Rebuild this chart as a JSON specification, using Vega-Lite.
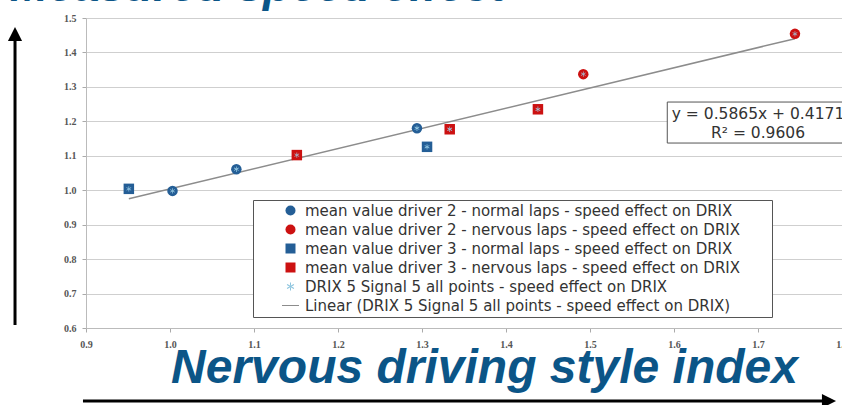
{
  "$schema": "https://vega.github.io/schema/vega-lite/v6.json",
  "width": 756,
  "height": 310,
  "autosize": "none",
  "padding": {"left": 86, "top": 18, "right": 0, "bottom": 77},
  "background": "white",
  "title": {"text": "Measured speed effect", "anchor": "start", "frame": "group", "font": "Liberation Sans", "fontSize": 46, "fontStyle": "italic", "fontWeight": "bold", "color": "#0b5587", "baseline": "bottom", "offset": 0, "dx": -76, "dy": 44},
  "datasets": {
    "pts": [
      {"x": 0.951, "y": 1.004, "series": "mean value driver 3 - normal laps - speed effect on DRIX"},
      {"x": 1.003, "y": 0.998, "series": "mean value driver 2 - normal laps - speed effect on DRIX"},
      {"x": 1.079, "y": 1.061, "series": "mean value driver 2 - normal laps - speed effect on DRIX"},
      {"x": 1.151, "y": 1.102, "series": "mean value driver 3 - nervous laps - speed effect on DRIX"},
      {"x": 1.294, "y": 1.180, "series": "mean value driver 2 - normal laps - speed effect on DRIX"},
      {"x": 1.306, "y": 1.126, "series": "mean value driver 3 - normal laps - speed effect on DRIX"},
      {"x": 1.333, "y": 1.177, "series": "mean value driver 3 - nervous laps - speed effect on DRIX"},
      {"x": 1.438, "y": 1.235, "series": "mean value driver 3 - nervous laps - speed effect on DRIX"},
      {"x": 1.492, "y": 1.337, "series": "mean value driver 2 - nervous laps - speed effect on DRIX"},
      {"x": 1.744, "y": 1.454, "series": "mean value driver 2 - nervous laps - speed effect on DRIX"}
    ],
    "trend": [
      {"x": 0.951, "y": 0.975},
      {"x": 1.744, "y": 1.440}
    ],
    "eqbox": [
      {"x": 1.592, "x2": 1.82, "y": 1.256, "y2": 1.137}
    ],
    "eqtext": [
      {"x": 1.7, "y": 1.220, "label": "y = 0.5865x + 0.4171\nR² = 0.9606"}
    ],
    "arrows": [
      {"x": 0.8155, "y": 0.609, "x2": 0.8155, "y2": 1.436},
      {"x": 0.8964, "y": 0.388, "x2": 1.7786, "y2": 0.388}
    ],
    "headUp": [{"x": 0.8155, "y": 1.4535}],
    "headRight": [{"x": 1.7845, "y": 0.388}]
  },
  "encoding": {
    "x": {"field": "x", "type": "quantitative", "title": "Nervous driving style index", "scale": {"domain": [0.9, 1.8], "nice": false, "zero": false},
      "axis": {"values": [0.9, 1.0, 1.1, 1.2, 1.3, 1.4, 1.5, 1.6, 1.7, 1.8], "format": ".1f"}},
    "y": {"field": "y", "type": "quantitative", "title": null, "scale": {"domain": [0.6, 1.5], "nice": false, "zero": false},
      "axis": {"values": [0.6, 0.7, 0.8, 0.9, 1.0, 1.1, 1.2, 1.3, 1.4, 1.5], "format": ".1f"}}
  },
  "layer": [
    {
      "data": {"name": "eqbox"},
      "mark": {"type": "rect", "fill": "white", "stroke": "#555555", "strokeWidth": 1},
      "encoding": {"x2": {"field": "x2"}, "y2": {"field": "y2"}}
    },
    {
      "data": {"name": "eqtext"},
      "mark": {"type": "text", "font": "DejaVu Sans", "fontSize": 15.5, "color": "#333333", "align": "center", "baseline": "middle", "lineBreak": "\n", "lineHeight": 19},
      "encoding": {"text": {"field": "label"}}
    },
    {
      "data": {"name": "trend"},
      "mark": {"type": "line", "color": "#8c8c8c", "strokeWidth": 1.5},
      "encoding": {}
    },
    {
      "data": {"name": "pts"},
      "mark": {"type": "point", "filled": true, "size": 110, "opacity": 1},
      "encoding": {
        "color": {"field": "series", "type": "nominal", "title": " ",
          "scale": {"domain": [
            "mean value driver 2 - normal laps - speed effect on DRIX",
            "mean value driver 2 - nervous laps - speed effect on DRIX",
            "mean value driver 3 - normal laps - speed effect on DRIX",
            "mean value driver 3 - nervous laps - speed effect on DRIX",
            "DRIX 5 Signal 5 all points - speed effect on DRIX",
            "Linear (DRIX 5 Signal 5 all points - speed effect on DRIX)"],
            "range": ["#245e96", "#cc1111", "#245e96", "#cc1111", "#8cc4de", "#8c8c8c"]}},
        "shape": {"field": "series", "type": "nominal", "title": " ",
          "scale": {"domain": [
            "mean value driver 2 - normal laps - speed effect on DRIX",
            "mean value driver 2 - nervous laps - speed effect on DRIX",
            "mean value driver 3 - normal laps - speed effect on DRIX",
            "mean value driver 3 - nervous laps - speed effect on DRIX",
            "DRIX 5 Signal 5 all points - speed effect on DRIX",
            "Linear (DRIX 5 Signal 5 all points - speed effect on DRIX)"],
            "range": ["circle", "circle", "square", "square",
              "M-0.1,-0.8L0.1,-0.8L0.1,0.8L-0.1,0.8ZM-0.74,-0.313L0.64,0.487L0.74,0.313L-0.64,-0.487ZM-0.64,0.487L0.74,-0.313L0.64,-0.487L-0.74,0.313Z",
              "M-1.7,-0.1L1.7,-0.1L1.7,0.1L-1.7,0.1Z"]}}
      }
    },
    {
      "data": {"name": "pts"},
      "mark": {"type": "point", "filled": true, "size": 45, "opacity": 1, "color": "#9fd2ea",
        "shape": "M-0.1,-0.8L0.1,-0.8L0.1,0.8L-0.1,0.8ZM-0.74,-0.313L0.64,0.487L0.74,0.313L-0.64,-0.487ZM-0.64,0.487L0.74,-0.313L0.64,-0.487L-0.74,0.313Z"},
      "encoding": {}
    },
    {
      "data": {"name": "arrows"},
      "mark": {"type": "rule", "color": "black", "strokeWidth": 3, "clip": false},
      "encoding": {"x2": {"field": "x2"}, "y2": {"field": "y2"}}
    },
    {
      "data": {"name": "headUp"},
      "mark": {"type": "point", "filled": true, "opacity": 1, "color": "black", "size": 200, "shape": "M-1,1L0,-1L1,1Z", "clip": false},
      "encoding": {}
    },
    {
      "data": {"name": "headRight"},
      "mark": {"type": "point", "filled": true, "opacity": 1, "color": "black", "size": 200, "shape": "M-1,-1L1,0L-1,1Z", "clip": false},
      "encoding": {}
    }
  ],
  "config": {
    "view": {"stroke": null},
    "axis": {"labelFont": "Liberation Serif", "labelFontSize": 10, "labelFontWeight": "bold", "labelColor": "#555555", "tickColor": "#aaaaaa", "domainColor": "#bbbbbb", "gridColor": "#cfcfcf", "tickSize": 4},
    "axisY": {"grid": true, "gridWidth": 1.2, "labelPadding": 6},
    "axisX": {"grid": false, "labelPadding": 7, "labelFlush": false,
      "titleFont": "Liberation Sans", "titleFontSize": 48, "titleFontStyle": "italic", "titleFontWeight": "bold", "titleColor": "#0b5587", "titleX": 398, "titleY": 54, "titleBaseline": "alphabetic", "titleAlign": "center"},
    "legend": {"orient": "none", "legendX": 167, "legendY": 182, "padding": 3, "rowPadding": 3, "symbolSize": 100, "symbolOffset": 27, "labelOffset": 7, "labelFont": "DejaVu Sans", "labelFontSize": 15, "labelColor": "#333333", "labelLimit": 1000, "fillColor": "white", "strokeColor": "#555555", "symbolStrokeWidth": 0, "titleOrient": "right", "titlePadding": 29, "titleFontSize": 15}
  }
}
